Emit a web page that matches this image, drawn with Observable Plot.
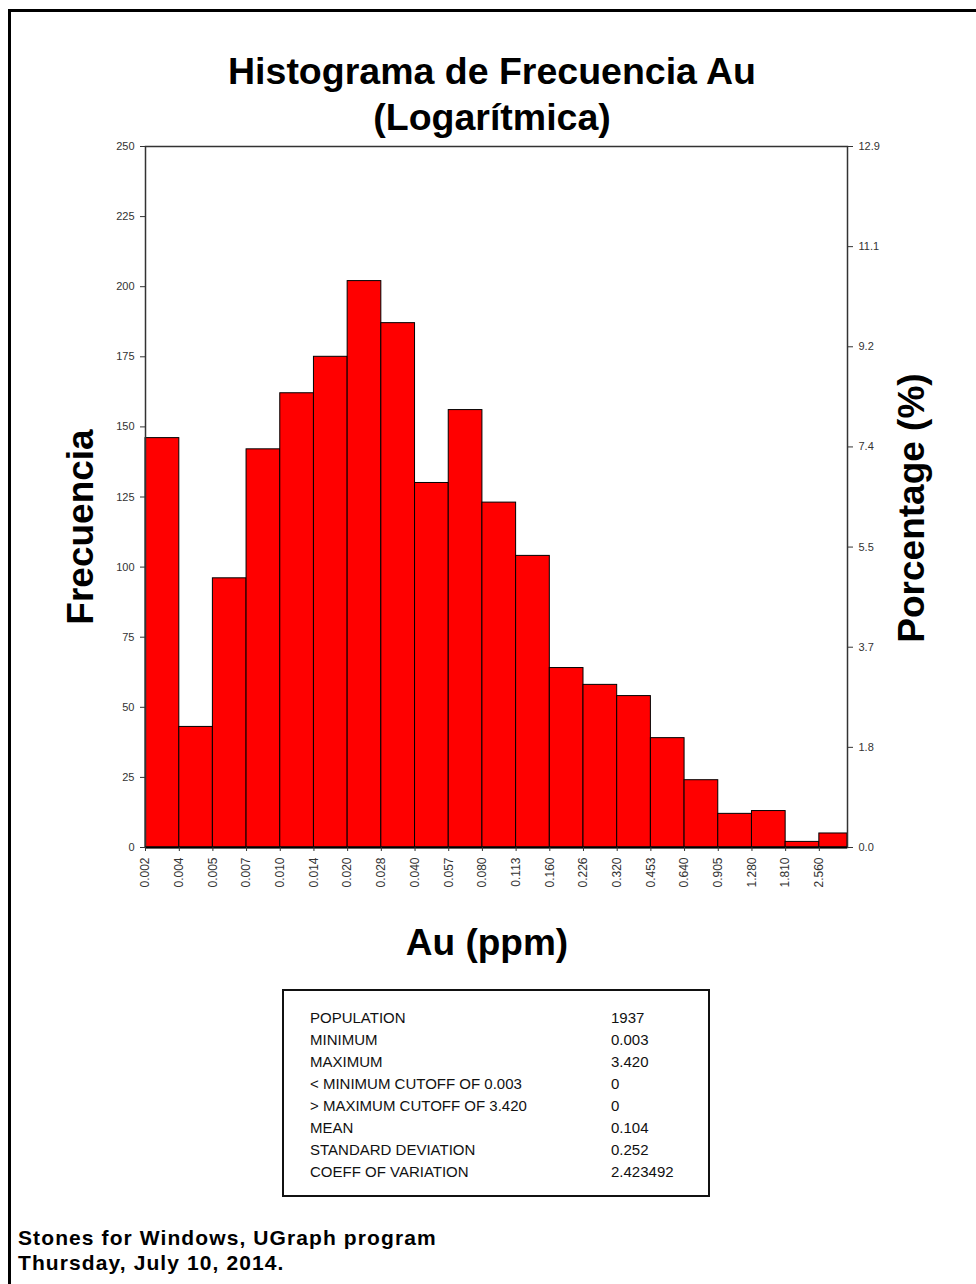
<!DOCTYPE html>
<html>
<head>
<meta charset="utf-8">
<script src="https://cdn.jsdelivr.net/npm/d3@7"></script>
<script src="https://cdn.jsdelivr.net/npm/@observablehq/plot@0.6"></script>
<style>
  html, body { margin: 0; padding: 0; background: #fff; overflow: hidden; }
  #page { position: relative; width: 976px; height: 1284px; font-family: "Liberation Sans", Arial, sans-serif; color: #000; }
  #border { position: absolute; left: 8px; top: 9px; width: 1100px; height: 1400px; border-top: 3px solid #000; border-left: 3px solid #000; }
  #chart { position: absolute; left: 0; top: 0; }
  .lbl { position: absolute; font-weight: bold; white-space: nowrap; line-height: 1; }
  #title { position: absolute; left: 0; width: 984px; top: 48px; text-align: center; font-weight: bold; font-size: 37.5px; line-height: 46px; }
  #ylab { left: 80px; top: 527px; font-size: 37px; transform: translate(-50%, -50%) rotate(-90deg); }
  #y2lab { left: 911px; top: 508px; font-size: 37px; transform: translate(-50%, -50%) rotate(-90deg); }
  #xlab { left: 487px; top: 942px; font-size: 37px; transform: translate(-50%, -50%); }
  #stats { position: absolute; left: 282px; top: 989px; width: 424px; height: 204px; border: 2px solid #111; }
  #stats table { position: absolute; left: 26px; top: 16px; border-collapse: collapse; font-size: 15px; color: #111; }
  #stats td { padding: 0; height: 22px; line-height: 22px; }
  .foot { position: absolute; left: 18px; font-weight: bold; font-size: 21px; line-height: 24px; letter-spacing: 1.1px; white-space: nowrap; }
</style>
</head>
<body>
<div id="page">
  <div id="border"></div>
  <div id="chart"></div>
  <div id="title"></div>
  <div id="ylab" class="lbl"></div>
  <div id="y2lab" class="lbl"></div>
  <div id="xlab" class="lbl"></div>
  <div id="stats"><table id="statTable"></table></div>
  <div id="foot1" class="foot" style="top:1226px"></div>
  <div id="foot2" class="foot" style="top:1251px"></div>
</div>
<script>
// ---- Data ----
const titleLines = ["Histograma de Frecuencia Au", "(Logarítmica)"];
const yLabel = "Frecuencia";
const y2Label = "Porcentage (%)";
const xLabel = "Au (ppm)";

// Lower bin edges (ppm), log2-spaced classes
const binEdges = [0.0025, 0.00354, 0.005, 0.00707, 0.01, 0.01414, 0.02, 0.02828, 0.04, 0.05657, 0.08, 0.11314, 0.16, 0.22627, 0.32, 0.45255, 0.64, 0.90510, 1.28, 1.81019, 2.56];
const edgeLabels = ["0.002","0.004","0.005","0.007","0.010","0.014","0.020","0.028","0.040","0.057","0.080","0.113","0.160","0.226","0.320","0.453","0.640","0.905","1.280","1.810","2.560"];
const counts = [146, 43, 96, 142, 162, 175, 202, 187, 130, 156, 123, 104, 64, 58, 54, 39, 24, 12, 13, 2, 5];

const population = 1937;
const minimum = 0.0025;
const maximum = 3.42;

const freqTicks = [0, 25, 50, 75, 100, 125, 150, 175, 200, 225, 250];
const pctTickLabels = ["0.0", "1.8", "3.7", "5.5", "7.4", "9.2", "11.1", "12.9"];

const statLabels = ["POPULATION", "MINIMUM", "MAXIMUM", "< MINIMUM CUTOFF OF 0.003", "> MAXIMUM CUTOFF OF 3.420", "MEAN", "STANDARD DEVIATION", "COEFF OF VARIATION"];
const statValues = ["1937", "0.003", "3.420", "0", "0", "0.104", "0.252", "2.423492"];

const footerLines = ["Stones for Windows, UGraph program", "Thursday, July 10, 2014."];

// ---- Build table for the library ----
const bins = counts.map((c, i) => ({
  x1: binEdges[i],
  x2: i + 1 < binEdges.length ? binEdges[i + 1] : maximum,
  count: c
}));
const yMax = freqTicks[freqTicks.length - 1];
const pctTicks = pctTickLabels.map((_, i) => i * yMax / (pctTickLabels.length - 1));
const edgeLabelOf = (d) => {
  let best = 0;
  binEdges.forEach((e, i) => { if (Math.abs(Math.log(e / d)) < Math.abs(Math.log(binEdges[best] / d))) best = i; });
  return edgeLabels[best];
};
const pctLabelOf = (d) => {
  let best = 0;
  pctTicks.forEach((e, i) => { if (Math.abs(e - d) < Math.abs(pctTicks[best] - d)) best = i; });
  return pctTickLabels[best];
};

const chart = Plot.plot({
  width: 976,
  height: 900,
  marginLeft: 145,
  marginRight: 129,
  marginTop: 146,
  marginBottom: 53,
  style: { fontFamily: "'Liberation Sans', Arial, sans-serif", background: "transparent", color: "#333" },
  x: { type: "log", domain: [minimum, maximum] },
  y: { domain: [0, yMax] },
  marks: [
    Plot.rect(bins, { x1: "x1", x2: "x2", y1: 0, y2: "count", fill: "#ff0000", stroke: "#000", strokeWidth: 1 }),
    Plot.frame({ stroke: "#333", strokeWidth: 1.5 }),
    Plot.ruleY([0], { stroke: "#000", strokeWidth: 2 }),
    Plot.axisY({ ticks: freqTicks, tickSize: 5, tickPadding: 6, fontSize: 11, label: null, stroke: "#333", fill: "#333" }),
    Plot.axisY({ anchor: "right", ticks: pctTicks, tickFormat: pctLabelOf, tickSize: 5, tickPadding: 6, fontSize: 11, label: null, stroke: "#333", fill: "#333" }),
    Plot.axisX({ ticks: binEdges, tickSize: 4, label: null, stroke: "#333", tickFormat: () => "" }),
    Plot.text(binEdges, { x: (d) => d, text: edgeLabelOf, frameAnchor: "bottom", dy: 10, rotate: -90, textAnchor: "end", lineAnchor: "middle", fontSize: 12, fill: "#333" })
  ]
});
document.getElementById("chart").appendChild(chart);

document.getElementById("title").innerHTML = titleLines.join("<br>");
document.getElementById("ylab").textContent = yLabel;
document.getElementById("y2lab").textContent = y2Label;
document.getElementById("xlab").textContent = xLabel;

const tbl = document.getElementById("statTable");
statLabels.forEach((l, i) => {
  const tr = document.createElement("tr");
  const a = document.createElement("td"); a.textContent = l; a.style.width = "301px";
  const b = document.createElement("td"); b.textContent = statValues[i];
  tr.appendChild(a); tr.appendChild(b); tbl.appendChild(tr);
});
document.getElementById("foot1").textContent = footerLines[0];
document.getElementById("foot2").textContent = footerLines[1];
</script>
</body>
</html>
